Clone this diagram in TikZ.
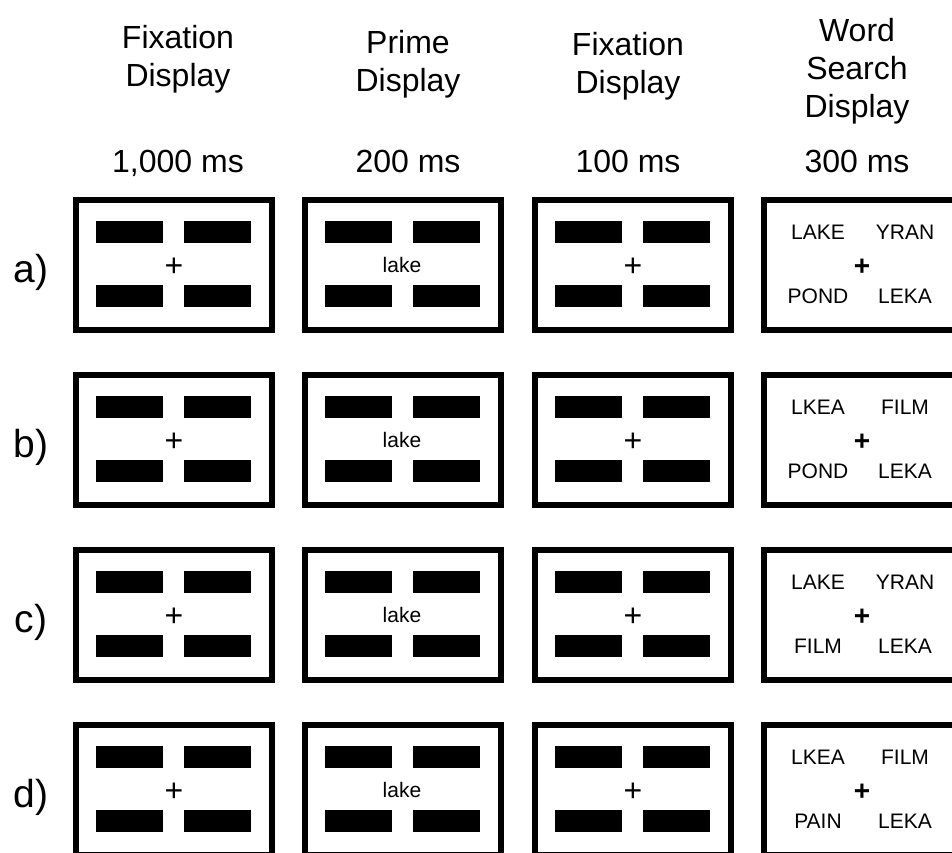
\documentclass[tikz,border=0pt]{standalone}
\usepackage{fontspec}
\setmainfont{Liberation Sans}
\begin{document}
\begin{tikzpicture}[x=1pt, y=-1pt,
    screen/.style={line width=5.5pt},
    head/.style={font=\fontsize{32}{38}\selectfont, align=center, inner sep=0pt},
    word/.style={font=\fontsize{21}{24}\selectfont, inner sep=0pt},
    fixcross/.style={font=\fontsize{32}{32}\selectfont, inner sep=0pt},
    rowlabel/.style={font=\fontsize{39}{42}\selectfont, inner sep=0pt}]
    \useasboundingbox (0,0) rectangle (952,852);
    \clip (0,0) rectangle (952,852);
    \fill[white] (0,0) rectangle (952,852);

    % Column headings
    \node[head, anchor=north] (h1) at (178,25) {Fixation\\Display};
    \node[head, anchor=north] (h2) at (408,30) {Prime\\Display};
    \node[head, anchor=north] (h3) at (628,32) {Fixation\\Display};
    \node[head, anchor=north] (h4) at (857,18) {Word\\Search\\Display};

    % Durations
    \node[head, anchor=base] (t1) at (178,172) {1,000 ms};
    \node[head, anchor=base] (t2) at (408,172) {200 ms};
    \node[head, anchor=base] (t3) at (628,172) {100 ms};
    \node[head, anchor=base] (t4) at (857,172) {300 ms};

    % One row of screens per condition
    \foreach \row/\ul/\ur/\ll/\lr [count=\r from 0] in
        {a/LAKE/YRAN/POND/LEKA, b/LKEA/FILM/POND/LEKA,
         c/LAKE/YRAN/FILM/LEKA, d/LKEA/FILM/PAIN/LEKA} {
      \pgfmathsetmacro{\cy}{265+175*\r}
      \node[rowlabel, anchor=base] (lab-\row) at (31,\cy+17) {\row)};

      % screen frames
      \foreach \cx in {174,403,633,862} {
        \draw[screen] (\cx-98,\cy-65) rectangle (\cx+98,\cy+65);
      }

      % masking bars in the first three screens
      \foreach \cx in {174,403,633} {
        \fill (\cx-78,\cy-44) rectangle (\cx-11,\cy-22);
        \fill (\cx+10,\cy-44) rectangle (\cx+77,\cy-22);
        \fill (\cx-78,\cy+20) rectangle (\cx-11,\cy+42);
        \fill (\cx+10,\cy+20) rectangle (\cx+77,\cy+42);
      }
      \node[fixcross] (fa-\row) at (174,\cy+2) {+};
      \node[word] (prime-\row) at (402,\cy) {lake};
      \node[fixcross] (fb-\row) at (633,\cy+2) {+};

      % word search display
      \node[word] (ul-\row) at (818,\cy-33) {\ul};
      \node[word] (ur-\row) at (905,\cy-33) {\ur};
      \node[word] (ll-\row) at (818,\cy+31) {\ll};
      \node[word] (lr-\row) at (905,\cy+31) {\lr};
      \node[fixcross, font=\fontsize{28}{28}\selectfont\bfseries] (fc-\row) at (862,\cy+2) {+};
    }
\end{tikzpicture}
\end{document}
